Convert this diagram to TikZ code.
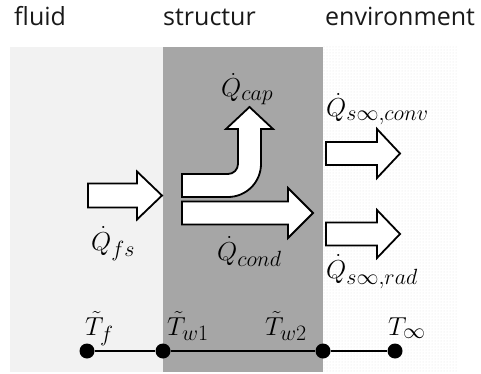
\RequirePackage{fix-cm}
\documentclass[tikz,border=0pt]{standalone}
\usepackage[no-math]{fontspec}
\newfontfamily\titlefont{Open Sans}
\usetikzlibrary{patterns}
\DeclareMathSizes{26}{26}{22}{17}
\begin{document}
\begin{tikzpicture}[x=1pt,y=-1pt,
  blockarrow/.style={draw=black, line width=1.8pt, fill=white, line join=miter},
  heading/.style={font=\titlefont\fontsize{25}{30}\selectfont, text=black!90, anchor=base west, inner sep=0pt},
  qlabel/.style={font=\fontsize{26}{31}\selectfont, anchor=base west, inner sep=0pt},
  tnode/.style={circle, fill=black, inner sep=0pt, minimum size=15pt},
  link/.style={line width=1.4pt}]
\useasboundingbox (0,0) rectangle (481,374);

% three zones: fluid, structure, environment
\fill[black!5] (10,47) rectangle (163,372);
\fill[black!35] (163,47) rectangle (323,372);
\fill[white] (323,47) rectangle (458,372);
\fill[pattern=dots, pattern color=black!10] (323,47) rectangle (458,372);

% zone headings
\node[heading] (hfluid) at (14,26) {fluid};
\node[heading] (hstruct) at (163,26) {structur};
\node[heading] (henv) at (325,26) {environment};

% heat flow arrows
\draw[blockarrow] (88,183.5) -- (137,183.5) -- (137,171.5) -- (162,195.5)
  -- (137,219.5) -- (137,207.5) -- (88,207.5) -- cycle;
\draw[blockarrow] (182,201.5) -- (288,201.5) -- (288,188) -- (313,213)
  -- (288,238) -- (288,224.5) -- (182,224.5) -- cycle;
\draw[blockarrow] (182,174) -- (228,174) .. controls (233.5,174) and (238,169.5) .. (238,164)
  -- (238,129) -- (226,129) -- (249.5,107) -- (273,129) -- (261,129) -- (261,164)
  .. controls (261,182.2) and (246.2,197) .. (228,197) -- (182,197) -- cycle;
\draw[blockarrow] (326,142) -- (377,142) -- (377,129) -- (400,153.5)
  -- (377,178) -- (377,165) -- (326,165) -- cycle;
\draw[blockarrow] (326,222.5) -- (377,222.5) -- (377,210) -- (400,234)
  -- (377,258) -- (377,245.5) -- (326,245.5) -- cycle;

% heat flow labels
\node[qlabel] (qfs) at (91,250) {$\dot{Q}_{fs}$};
\node[qlabel] (qcap) at (221,97) {$\dot{Q}_{cap}$};
\node[qlabel] (qcond) at (217,260) {$\dot{Q}_{cond}$};
\node[qlabel] (qconv) at (326,117) {$\dot{Q}_{s\infty,conv}$};
\node[qlabel] (qrad) at (326,278) {$\dot{Q}_{s\infty,rad}$};

% temperature chain
\node[tnode] (tf) at (87,351) {};
\node[tnode] (tw1) at (163,351) {};
\node[tnode] (tw2) at (323,351) {};
\node[tnode] (tinf) at (395,351) {};
\draw[link] (tf) -- (tw1) -- (tw2) -- (tinf);

\node[qlabel] (ltf) at (85,335) {$\tilde{T}_f$};
\node[qlabel] (ltw1) at (167,335) {$\tilde{T}_{w1}$};
\node[qlabel] (ltw2) at (265,335) {$\tilde{T}_{w2}$};
\node[qlabel] (ltinf) at (388,335) {$T_\infty$};
\end{tikzpicture}
\end{document}
